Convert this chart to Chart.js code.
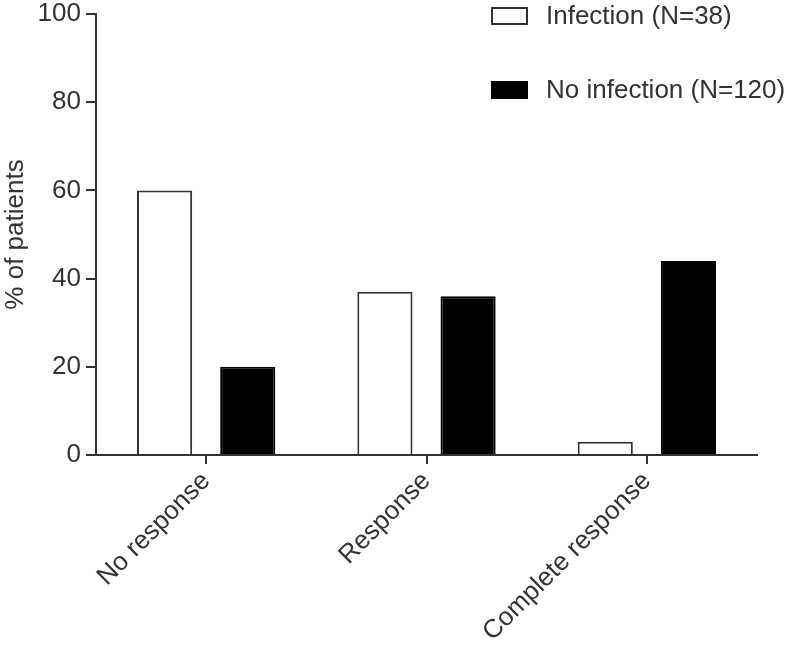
<!DOCTYPE html>
<html>
<head>
<meta charset="utf-8">
<script src="https://cdn.jsdelivr.net/npm/chart.js@4/dist/chart.umd.min.js"></script>
<style>
  html, body { margin: 0; padding: 0; background: #fff; }
  #wrap { width: 788px; height: 649px; }
</style>
</head>
<body>
<div id="wrap"><canvas id="c" width="788" height="649"></canvas></div>
<script>
  const categories = ["No response", "Response", "Complete response"];
  const infection = [60, 37, 3];
  const noInfection = [20, 36, 44];
  const seriesNames = ["Infection (N=38)", "No infection (N=120)"];
  const yTicks = [0, 20, 40, 60, 80, 100];

  const ink = "#333";
  const font = "'Liberation Sans', Arial, sans-serif";

  // legend drawn by hand, stacked in the top-right corner
  const sideLegend = {
    id: "sideLegend",
    afterDraw(chart) {
      const ctx = chart.ctx;
      ctx.save();
      ctx.font = "26px " + font;
      ctx.textBaseline = "middle";
      chart.data.datasets.forEach((ds, i) => {
        const y = 16 + i * 74;
        ctx.fillStyle = ds.backgroundColor;
        ctx.strokeStyle = ds.borderColor;
        ctx.lineWidth = 2;
        ctx.fillRect(492, y - 8, 35, 16);
        ctx.strokeRect(492, y - 8, 35, 16);
        ctx.fillStyle = ink;
        ctx.fillText(ds.label, 546, y + 1);
      });
      ctx.restore();
    }
  };

  new Chart(document.getElementById("c"), {
    type: "bar",
    data: {
      labels: categories,
      datasets: [
        { label: seriesNames[0], data: infection, backgroundColor: "#fff", borderColor: ink, borderWidth: 2 },
        { label: seriesNames[1], data: noInfection, backgroundColor: "#000", borderColor: "#000", borderWidth: 2 },
      ],
    },
    options: {
      responsive: false,
      animation: false,
      categoryPercentage: 0.755,
      barPercentage: 0.663,
      layout: { padding: { top: 14, right: 31, left: 0, bottom: 0 } },
      plugins: { legend: { display: false }, tooltip: { enabled: false } },
      scales: {
        x: {
          grid: { offset: false, drawOnChartArea: false, drawTicks: true, tickLength: 9, color: ink, lineWidth: 2 },
          border: { color: ink, width: 2 },
          ticks: { color: ink, font: { size: 26, family: font }, minRotation: 45, maxRotation: 45, padding: 2 },
          afterFit: (s) => { s.height = 194; s.paddingLeft = 0; s.paddingRight = 0; },
        },
        y: {
          min: 0, max: 100,
          afterBuildTicks: (s) => { s.ticks = yTicks.map(v => ({ value: v })); },
          grid: { drawOnChartArea: false, drawTicks: true, tickLength: 10, color: ink, lineWidth: 2 },
          border: { color: ink, width: 2 },
          ticks: { color: ink, font: { size: 26, family: font }, padding: 5 },
          title: { display: true, text: "% of patients", color: ink, font: { size: 26, family: font }, padding: 0 },
          afterFit: (s) => { s.width = 96; s.paddingTop = 0; s.paddingBottom = 0; },
        },
      },
    },
    plugins: [sideLegend],
  });
</script>
</body>
</html>
